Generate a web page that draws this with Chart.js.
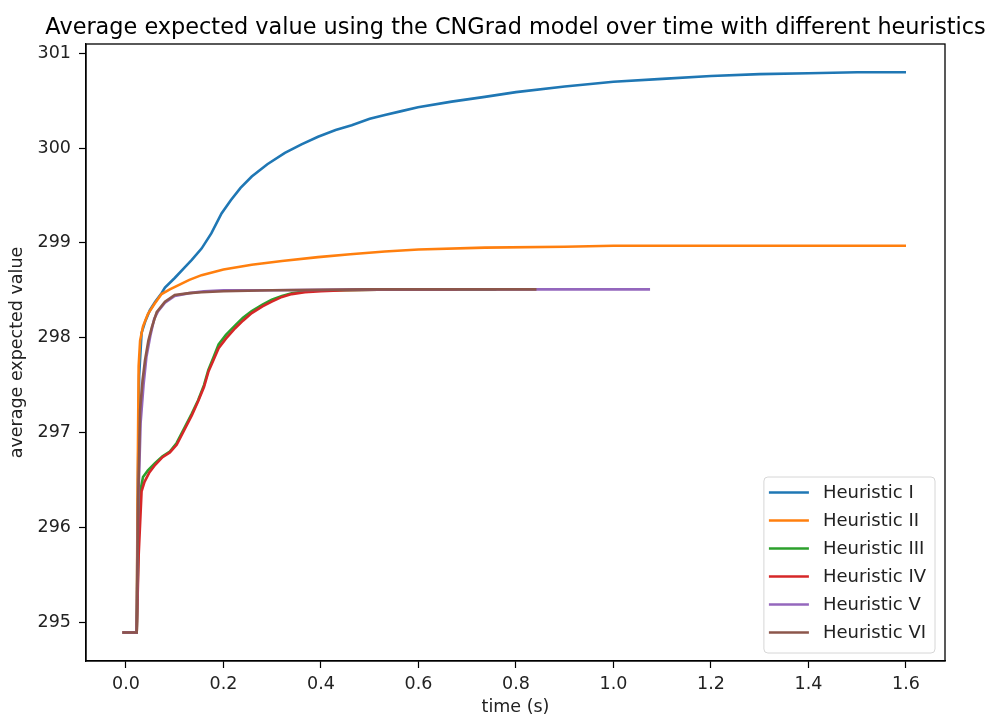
<!DOCTYPE html>
<html>
  <head>
    <script src="https://cdn.jsdelivr.net/npm/chart.js@4.4.0/dist/chart.umd.min.js"></script>
    <style>
      body { margin: 0; background: #fff; }
    </style>
  </head>

  <body>
    <canvas id="canvas" width="990" height="719"></canvas>
    <script>
      const title = 'Average expected value using the CNGrad model over time with different heuristics';
      const labels = ['Heuristic I', 'Heuristic II', 'Heuristic III', 'Heuristic IV', 'Heuristic V', 'Heuristic VI'];
      const colors = ['#1f77b4', '#ff7f0e', '#2ca02c', '#d62728', '#9467bd', '#8c564b'];
      const xTicks = [0, 0.2, 0.4, 0.6, 0.8, 1.0, 1.2, 1.4, 1.6];
      const yTicks = [295, 296, 297, 298, 299, 300, 301];

      const t1 = [-0.007, 0.022, 0.024, 0.027, 0.032, 0.040, 0.049, 0.060, 0.073, 0.080, 0.100, 0.120, 0.135, 0.155, 0.175, 0.196, 0.215, 0.235, 0.258, 0.290, 0.326, 0.360, 0.394, 0.430, 0.463, 0.500, 0.531, 0.565, 0.599, 0.668, 0.736, 0.800, 0.900, 1.000, 1.100, 1.200, 1.300, 1.400, 1.500, 1.600];
      const v1 = [294.89, 294.89, 296.2, 297.6, 298.05, 298.18, 298.29, 298.38, 298.47, 298.53, 298.63, 298.74, 298.82, 298.94, 299.10, 299.31, 299.45, 299.58, 299.70, 299.83, 299.95, 300.04, 300.12, 300.19, 300.24, 300.31, 300.35, 300.39, 300.43, 300.49, 300.54, 300.59, 300.65, 300.70, 300.73, 300.76, 300.78, 300.79, 300.80, 300.80];

      const t2 = [-0.007, 0.022, 0.024, 0.026, 0.029, 0.035, 0.045, 0.059, 0.073, 0.090, 0.110, 0.130, 0.155, 0.200, 0.258, 0.320, 0.394, 0.460, 0.531, 0.600, 0.736, 0.900, 1.000, 1.200, 1.400, 1.600];
      const v2 = [294.89, 294.89, 296.5, 297.7, 297.97, 298.12, 298.25, 298.36, 298.46, 298.51, 298.56, 298.61, 298.66, 298.72, 298.77, 298.81, 298.85, 298.88, 298.91, 298.93, 298.95, 298.96, 298.97, 298.97, 298.97, 298.97];

      const t3 = [-0.007, 0.022, 0.026, 0.030, 0.035, 0.045, 0.060, 0.075, 0.090, 0.104, 0.121, 0.135, 0.148, 0.160, 0.169, 0.180, 0.190, 0.205, 0.224, 0.240, 0.258, 0.280, 0.299, 0.320, 0.340, 0.367, 0.400, 0.450, 0.550, 0.760];
      const v3 = [294.89, 294.89, 295.9, 296.40, 296.53, 296.60, 296.68, 296.75, 296.80, 296.89, 297.06, 297.20, 297.34, 297.50, 297.66, 297.80, 297.93, 298.03, 298.13, 298.21, 298.28, 298.35, 298.40, 298.44, 298.47, 298.49, 298.50, 298.50, 298.51, 298.51];

      const t4 = [-0.007, 0.022, 0.026, 0.032, 0.038, 0.048, 0.060, 0.075, 0.090, 0.104, 0.121, 0.135, 0.148, 0.160, 0.169, 0.180, 0.190, 0.205, 0.224, 0.240, 0.258, 0.280, 0.299, 0.320, 0.340, 0.367, 0.400, 0.450, 0.550, 0.680];
      const v4 = [294.89, 294.89, 295.7, 296.38, 296.48, 296.58, 296.66, 296.74, 296.79, 296.87, 297.04, 297.18, 297.33, 297.48, 297.64, 297.77, 297.89, 297.99, 298.10, 298.18, 298.26, 298.33, 298.38, 298.43, 298.46, 298.48, 298.49, 298.50, 298.51, 298.51];

      const t5 = [-0.007, 0.022, 0.025, 0.030, 0.036, 0.042, 0.050, 0.058, 0.066, 0.080, 0.100, 0.130, 0.160, 0.200, 0.300, 0.500, 0.800, 1.075];
      const v5 = [294.89, 294.89, 296.2, 297.1, 297.5, 297.8, 298.02, 298.20, 298.28, 298.37, 298.44, 298.47, 298.49, 298.50, 298.50, 298.51, 298.51, 298.51];

      const t6 = [-0.007, 0.022, 0.025, 0.029, 0.034, 0.039, 0.046, 0.053, 0.063, 0.080, 0.100, 0.130, 0.155, 0.200, 0.300, 0.500, 0.842];
      const v6 = [294.89, 294.89, 296.3, 297.24, 297.55, 297.76, 297.97, 298.11, 298.27, 298.38, 298.45, 298.47, 298.48, 298.49, 298.50, 298.51, 298.51];

      const times = [t1, t2, t3, t4, t5, t6];
      const values = [v1, v2, v3, v4, v5, v6];

      const font = 'DejaVu Sans';

      // frame, title and legend drawn the matplotlib way
      const mplPlugin = {
        id: 'mpl',
        afterDraw(chart) {
          const ctx = chart.ctx;
          const a = chart.chartArea;
          ctx.save();
          ctx.strokeStyle = '#000';
          ctx.lineWidth = 1.3;
          ctx.strokeRect(a.left, a.top, a.right - a.left, a.bottom - a.top);

          ctx.fillStyle = '#000';
          ctx.font = '22.4px "' + font + '"';
          ctx.textAlign = 'center';
          ctx.textBaseline = 'alphabetic';
          ctx.fillText(title, (a.left + a.right) / 2, 34);

          ctx.font = '18px "' + font + '"';
          ctx.textAlign = 'left';
          ctx.textBaseline = 'middle';
          const ds = chart.data.datasets;
          const textW = Math.max(...ds.map((d) => ctx.measureText(d.label).width));
          const w = 5 + 40 + 14 + textW + 9;
          const rowH = 28;
          const h = ds.length * rowH + 8;
          const x0 = a.right - 10 - w;
          const y0 = a.bottom - 8 - h;
          ctx.beginPath();
          ctx.roundRect(x0, y0, w, h, 4);
          ctx.fillStyle = 'rgba(255,255,255,0.8)';
          ctx.fill();
          ctx.strokeStyle = '#d6d6d6';
          ctx.lineWidth = 1;
          ctx.stroke();
          ds.forEach((d, i) => {
            const y = y0 + 15.5 + i * rowH;
            ctx.strokeStyle = d.borderColor;
            ctx.lineWidth = 2.6;
            ctx.beginPath();
            ctx.moveTo(x0 + 5, y);
            ctx.lineTo(x0 + 45, y);
            ctx.stroke();
            ctx.fillStyle = '#222';
            ctx.fillText(d.label, x0 + 59, y + 1);
          });
          ctx.restore();
        },
      };

      new Chart(document.getElementById('canvas').getContext('2d'), {
        type: 'line',
        data: {
          datasets: labels.map((label, i) => ({
            label,
            data: times[i].map((t, j) => ({ x: t, y: values[i][j] })),
            borderColor: colors[i],
            backgroundColor: colors[i],
            borderWidth: 2.6,
            pointRadius: 0,
            tension: 0,
            fill: false,
            order: labels.length - i, // later heuristics on top, like matplotlib
          })),
        },
        options: {
          responsive: false,
          devicePixelRatio: 1,
          animation: false,
          layout: { padding: { top: 44, right: 45, left: 0, bottom: 0 } },
          plugins: {
            legend: { display: false },
            title: { display: false },
            tooltip: { enabled: false },
          },
          scales: {
            x: {
              type: 'linear',
              min: -0.082,
              max: 1.68,
              afterFit: (s) => { s.height = 58; },
              afterBuildTicks: (s) => { s.ticks = xTicks.map((v) => ({ value: v })); },
              border: { display: true, color: '#000', width: 1.3 },
              grid: { drawOnChartArea: false, color: '#000', tickLength: 7, tickWidth: 1.2 },
              ticks: {
                color: '#222',
                padding: 6,
                maxRotation: 0,
                font: { family: font, size: 17.5 },
                callback: (v) => v.toFixed(1),
              },
              title: {
                display: true,
                text: 'time (s)',
                color: '#222',
                font: { family: font, size: 17.5 },
                padding: { top: 0, bottom: 1 },
              },
            },
            y: {
              min: 294.59,
              max: 301.098,
              afterFit: (s) => { s.width = 86; },
              afterBuildTicks: (s) => { s.ticks = yTicks.map((v) => ({ value: v })); },
              border: { display: true, color: '#000', width: 1.3 },
              grid: { drawOnChartArea: false, color: '#000', tickLength: 7, tickWidth: 1.2 },
              ticks: {
                color: '#222',
                padding: 8,
                font: { family: font, size: 17.5 },
                callback: (v) => String(v),
              },
              title: {
                display: true,
                text: 'average expected value',
                color: '#222',
                font: { family: font, size: 17.5 },
                padding: { top: 7, bottom: 0 },
              },
            },
          },
        },
        plugins: [mplPlugin],
      });
    </script>
  </body>
</html>
